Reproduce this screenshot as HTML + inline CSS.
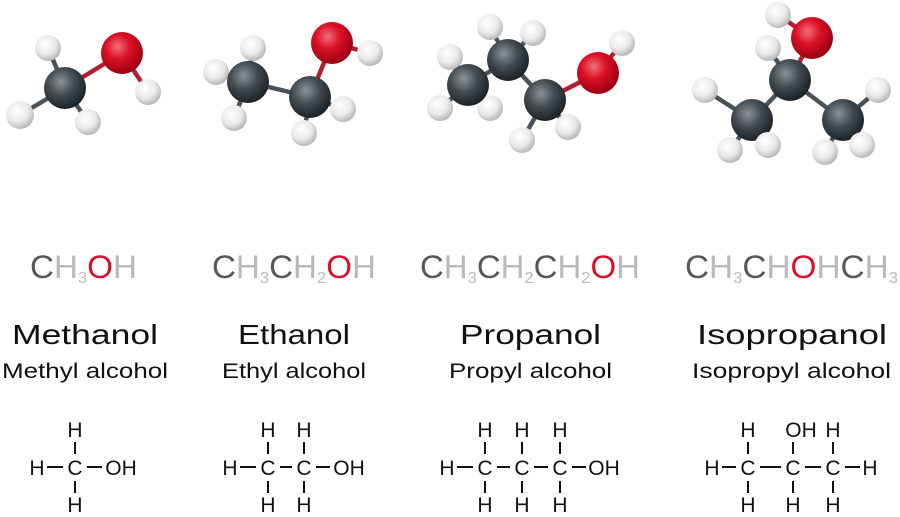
<!DOCTYPE html>
<html><head><meta charset="utf-8"><style>
html,body{margin:0;padding:0;background:#fff;}
svg{display:block;}
.f{font-family:"Liberation Sans",sans-serif;font-size:32px;}
.c{fill:#55595c}.h{fill:#b8babc}.o{fill:#d8102a}
.n{font-family:"Liberation Sans",sans-serif;font-size:28px;fill:#111;}
.s{font-family:"Liberation Sans",sans-serif;font-size:21px;fill:#111;}
.t{font-family:"Liberation Sans",sans-serif;font-size:21px;fill:#111;text-anchor:middle;}
.b line{stroke:#111;stroke-width:2;}
.bd line{stroke:#4a5258;stroke-width:4.5;stroke-linecap:round;}
</style></head><body>
<svg width="900" height="517" viewBox="0 0 900 517" xmlns="http://www.w3.org/2000/svg">
<defs>
<radialGradient id="gC" cx="0.4" cy="0.35" r="0.65"><stop offset="0" stop-color="#8a9398"/><stop offset="0.5" stop-color="#434b50"/><stop offset="1" stop-color="#1c2226"/></radialGradient>
<radialGradient id="gO" cx="0.4" cy="0.35" r="0.65"><stop offset="0" stop-color="#f0707c"/><stop offset="0.45" stop-color="#dc1026"/><stop offset="1" stop-color="#9a0012"/></radialGradient>
<radialGradient id="gH" cx="0.4" cy="0.35" r="0.65"><stop offset="0" stop-color="#ffffff"/><stop offset="0.6" stop-color="#eaeaea"/><stop offset="1" stop-color="#b8b8b8"/></radialGradient>
</defs>

<!-- Methanol model -->
<g class="bd">
<line x1="65" y1="88" x2="48" y2="48"/><line x1="65" y1="88" x2="20" y2="115"/><line x1="65" y1="88" x2="88" y2="122"/>
<line x1="65" y1="88" x2="122" y2="53" style="stroke:#b0202e"/><line x1="122" y1="53" x2="148" y2="92" style="stroke:#b0202e"/>
</g>
<circle cx="48" cy="48" r="13" fill="url(#gH)"/>
<circle cx="20" cy="115" r="14" fill="url(#gH)"/>
<circle cx="88" cy="122" r="13" fill="url(#gH)"/>
<circle cx="148" cy="92" r="13" fill="url(#gH)"/>
<circle cx="65" cy="88" r="21" fill="url(#gC)"/>
<circle cx="122" cy="53" r="21" fill="url(#gO)"/>

<!-- Ethanol model -->
<g class="bd">
<line x1="248" y1="82" x2="216" y2="72"/><line x1="248" y1="82" x2="253" y2="48"/><line x1="248" y1="82" x2="234" y2="118"/>
<line x1="248" y1="82" x2="310" y2="97"/><line x1="310" y1="97" x2="304" y2="133"/><line x1="310" y1="97" x2="343" y2="109"/>
<line x1="310" y1="97" x2="332" y2="43" style="stroke:#b0202e"/><line x1="332" y1="43" x2="370" y2="53" style="stroke:#b0202e"/>
</g>
<circle cx="253" cy="48" r="13" fill="url(#gH)"/>
<circle cx="216" cy="72" r="13" fill="url(#gH)"/>
<circle cx="370" cy="53" r="13" fill="url(#gH)"/>
<circle cx="248" cy="82" r="21" fill="url(#gC)"/>
<circle cx="234" cy="118" r="13" fill="url(#gH)"/>
<circle cx="343" cy="109" r="13" fill="url(#gH)"/>
<circle cx="310" cy="97" r="21" fill="url(#gC)"/>
<circle cx="304" cy="133" r="13" fill="url(#gH)"/>
<circle cx="332" cy="43" r="21" fill="url(#gO)"/>

<!-- Propanol model -->
<g class="bd">
<line x1="468" y1="85" x2="450" y2="57"/><line x1="468" y1="85" x2="440" y2="108"/><line x1="468" y1="85" x2="490" y2="108"/>
<line x1="468" y1="85" x2="508" y2="60"/><line x1="508" y1="60" x2="490" y2="27"/><line x1="508" y1="60" x2="533" y2="33"/>
<line x1="508" y1="60" x2="545" y2="100"/><line x1="545" y1="100" x2="522" y2="140"/><line x1="545" y1="100" x2="568" y2="127"/>
<line x1="545" y1="100" x2="598" y2="73" style="stroke:#b0202e"/><line x1="598" y1="73" x2="622" y2="43" style="stroke:#b0202e"/>
</g>
<circle cx="490" cy="27" r="13" fill="url(#gH)"/>
<circle cx="533" cy="33" r="13" fill="url(#gH)"/>
<circle cx="450" cy="57" r="13" fill="url(#gH)"/>
<circle cx="622" cy="43" r="13" fill="url(#gH)"/>
<circle cx="508" cy="60" r="21" fill="url(#gC)"/>
<circle cx="440" cy="108" r="13" fill="url(#gH)"/>
<circle cx="490" cy="108" r="13" fill="url(#gH)"/>
<circle cx="468" cy="85" r="21" fill="url(#gC)"/>
<circle cx="522" cy="140" r="13" fill="url(#gH)"/>
<circle cx="568" cy="127" r="13" fill="url(#gH)"/>
<circle cx="545" cy="100" r="21" fill="url(#gC)"/>
<circle cx="598" cy="73" r="21" fill="url(#gO)"/>

<!-- Isopropanol model -->
<g class="bd">
<line x1="790" y1="80" x2="768" y2="48"/><line x1="790" y1="80" x2="752" y2="120"/><line x1="790" y1="80" x2="843" y2="120"/>
<line x1="752" y1="120" x2="705" y2="90"/><line x1="752" y1="120" x2="730" y2="150"/><line x1="752" y1="120" x2="768" y2="145"/>
<line x1="843" y1="120" x2="878" y2="90"/><line x1="843" y1="120" x2="825" y2="152"/><line x1="843" y1="120" x2="862" y2="145"/>
<line x1="790" y1="80" x2="812" y2="38" style="stroke:#b0202e"/><line x1="812" y1="38" x2="778" y2="15" style="stroke:#b0202e"/>
</g>
<circle cx="778" cy="15" r="13" fill="url(#gH)"/>
<circle cx="812" cy="38" r="21" fill="url(#gO)"/>
<circle cx="768" cy="48" r="13" fill="url(#gH)"/>
<circle cx="705" cy="90" r="13" fill="url(#gH)"/>
<circle cx="878" cy="90" r="13" fill="url(#gH)"/>
<circle cx="790" cy="80" r="21" fill="url(#gC)"/>
<circle cx="752" cy="120" r="21" fill="url(#gC)"/>
<circle cx="843" cy="120" r="21" fill="url(#gC)"/>
<circle cx="730" cy="150" r="13" fill="url(#gH)"/>
<circle cx="768" cy="145" r="13" fill="url(#gH)"/>
<circle cx="825" cy="152" r="13" fill="url(#gH)"/>
<circle cx="862" cy="145" r="13" fill="url(#gH)"/>

<!-- Condensed formulas -->
<text class="f" x="30" y="278" textLength="107" lengthAdjust="spacingAndGlyphs"><tspan class="c">C</tspan><tspan class="h">H</tspan><tspan class="h" font-size="16" dy="5">3</tspan><tspan class="o" dy="-5">O</tspan><tspan class="h">H</tspan></text>
<text class="f" x="212" y="278" textLength="164" lengthAdjust="spacingAndGlyphs"><tspan class="c">C</tspan><tspan class="h">H</tspan><tspan class="h" font-size="16" dy="5">3</tspan><tspan class="c" dy="-5">C</tspan><tspan class="h">H</tspan><tspan class="h" font-size="16" dy="5">2</tspan><tspan class="o" dy="-5">O</tspan><tspan class="h">H</tspan></text>
<text class="f" x="420" y="278" textLength="220" lengthAdjust="spacingAndGlyphs"><tspan class="c">C</tspan><tspan class="h">H</tspan><tspan class="h" font-size="16" dy="5">3</tspan><tspan class="c" dy="-5">C</tspan><tspan class="h">H</tspan><tspan class="h" font-size="16" dy="5">2</tspan><tspan class="c" dy="-5">C</tspan><tspan class="h">H</tspan><tspan class="h" font-size="16" dy="5">2</tspan><tspan class="o" dy="-5">O</tspan><tspan class="h">H</tspan></text>
<text class="f" x="685" y="278" textLength="213" lengthAdjust="spacingAndGlyphs"><tspan class="c">C</tspan><tspan class="h">H</tspan><tspan class="h" font-size="16" dy="5">3</tspan><tspan class="c" dy="-5">C</tspan><tspan class="h">H</tspan><tspan class="o">O</tspan><tspan class="h">H</tspan><tspan class="c">C</tspan><tspan class="h">H</tspan><tspan class="h" font-size="16" dy="5">3</tspan></text>

<!-- Names -->
<text class="n" x="12" y="344" textLength="146" lengthAdjust="spacingAndGlyphs">Methanol</text>
<text class="n" x="238" y="344" textLength="112" lengthAdjust="spacingAndGlyphs">Ethanol</text>
<text class="n" x="460" y="344" textLength="141" lengthAdjust="spacingAndGlyphs">Propanol</text>
<text class="n" x="697" y="344" textLength="190" lengthAdjust="spacingAndGlyphs">Isopropanol</text>
<text class="s" x="2" y="378" textLength="166" lengthAdjust="spacingAndGlyphs">Methyl alcohol</text>
<text class="s" x="222" y="378" textLength="144" lengthAdjust="spacingAndGlyphs">Ethyl alcohol</text>
<text class="s" x="449" y="378" textLength="163" lengthAdjust="spacingAndGlyphs">Propyl alcohol</text>
<text class="s" x="692" y="378" textLength="199" lengthAdjust="spacingAndGlyphs">Isopropyl alcohol</text>

<!-- Structural formulas -->
<g>
<text class="t" x="75" y="437">H</text><text class="t" x="37" y="475">H</text><text class="t" x="75" y="475">C</text><text class="t" x="75" y="512">H</text>
<text class="t" x="121" y="475">OH</text>
<g class="b"><line x1="47" y1="467" x2="63" y2="467"/><line x1="87" y1="467" x2="102" y2="467"/><line x1="75" y1="442" x2="75" y2="454"/><line x1="75" y1="481" x2="75" y2="493"/></g>
</g>
<g>
<text class="t" x="230" y="475">H</text>
<text class="t" x="268" y="437">H</text><text class="t" x="268" y="475">C</text><text class="t" x="268" y="512">H</text>
<text class="t" x="304" y="437">H</text><text class="t" x="304" y="475">C</text><text class="t" x="304" y="512">H</text>
<text class="t" x="349" y="475">OH</text>
<g class="b"><line x1="240" y1="467" x2="256" y2="467"/><line x1="280" y1="467" x2="292" y2="467"/><line x1="316" y1="467" x2="330" y2="467"/>
<line x1="268" y1="442" x2="268" y2="454"/><line x1="268" y1="481" x2="268" y2="493"/><line x1="304" y1="442" x2="304" y2="454"/><line x1="304" y1="481" x2="304" y2="493"/></g>
</g>
<g>
<text class="t" x="447" y="475">H</text>
<text class="t" x="485" y="437">H</text><text class="t" x="485" y="475">C</text><text class="t" x="485" y="512">H</text>
<text class="t" x="522" y="437">H</text><text class="t" x="522" y="475">C</text><text class="t" x="522" y="512">H</text>
<text class="t" x="560" y="437">H</text><text class="t" x="560" y="475">C</text><text class="t" x="560" y="512">H</text>
<text class="t" x="604" y="475">OH</text>
<g class="b"><line x1="457" y1="467" x2="473" y2="467"/><line x1="497" y1="467" x2="510" y2="467"/><line x1="534" y1="467" x2="548" y2="467"/><line x1="572" y1="467" x2="586" y2="467"/>
<line x1="485" y1="442" x2="485" y2="454"/><line x1="485" y1="481" x2="485" y2="493"/><line x1="522" y1="442" x2="522" y2="454"/><line x1="522" y1="481" x2="522" y2="493"/><line x1="560" y1="442" x2="560" y2="454"/><line x1="560" y1="481" x2="560" y2="493"/></g>
</g>
<g>
<text class="t" x="712" y="475">H</text>
<text class="t" x="748" y="437">H</text><text class="t" x="748" y="475">C</text><text class="t" x="748" y="512">H</text>
<text class="t" x="801" y="437">OH</text><text class="t" x="793" y="475">C</text><text class="t" x="793" y="512">H</text>
<text class="t" x="833" y="437">H</text><text class="t" x="833" y="475">C</text><text class="t" x="833" y="512">H</text>
<text class="t" x="870" y="475">H</text>
<g class="b"><line x1="722" y1="467" x2="736" y2="467"/><line x1="760" y1="467" x2="781" y2="467"/><line x1="805" y1="467" x2="821" y2="467"/><line x1="845" y1="467" x2="860" y2="467"/>
<line x1="748" y1="442" x2="748" y2="454"/><line x1="748" y1="481" x2="748" y2="493"/><line x1="793" y1="442" x2="793" y2="454"/><line x1="793" y1="481" x2="793" y2="493"/><line x1="833" y1="442" x2="833" y2="454"/><line x1="833" y1="481" x2="833" y2="493"/></g>
</g>
</svg>
</body></html>
